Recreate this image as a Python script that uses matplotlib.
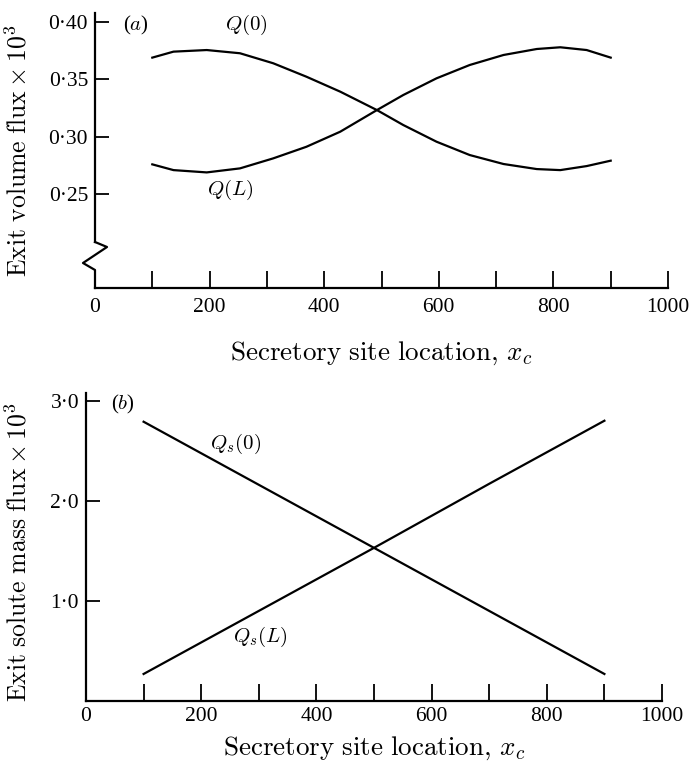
import numpy as np
from matplotlib import pyplot as plt

plt.rcParams['font.family'] = ['Liberation Serif', 'DejaVu Serif']
plt.rcParams['mathtext.fontset'] = 'cm'

# (a) exit volume flux x 10^3 against secretory site location
xc0 = [100, 137, 195, 253, 311, 369, 428, 492, 538, 596, 654, 713, 771, 812, 858, 900]
Q0 = [0.3690, 0.3742, 0.3756, 0.3728, 0.3641, 0.3524, 0.3394, 0.3234, 0.3104,
      0.2959, 0.2843, 0.2765, 0.2721, 0.2712, 0.2747, 0.2794]
xcL = [100, 137, 195, 253, 311, 369, 428, 492, 538, 596, 654, 713, 771, 812, 858, 900]
QL = [0.2762, 0.2712, 0.2692, 0.2727, 0.2814, 0.2915, 0.3046, 0.3234, 0.3365,
      0.3510, 0.3626, 0.3713, 0.3765, 0.3780, 0.3756, 0.3690]

# (b) exit solute mass flux x 10^3
xs = [100, 300, 500, 700, 900]
Qs0 = [2.79, 2.16, 1.53, 0.90, 0.27]
QsL = [0.27, 0.90, 1.53, 2.17, 2.80]

xticks = [0, 200, 400, 600, 800, 1000]
xticklabels = ['0', '200', '400', '600', '800', '1000']
yticks_a = [0.25, 0.30, 0.35, 0.40]
yticklabels_a = ['0·25', '0·30', '0·35', '0·40']
yticks_b = [1.0, 2.0, 3.0]
yticklabels_b = ['1·0', '2·0', '3·0']

fs = 15.5    # tick labels
fa = 15      # curve annotations
fx = 19.5    # x label
fy = 18.5    # y label
lw = 1.6

xlab = r'$\mathrm{Secretory\ site\ location,}\,x_c$'

fig = plt.figure(figsize=(6.93, 7.62), dpi=100)

ax1 = fig.add_axes([95/693, 1-288/762, 573/693, 275/762])
ax1.plot(xc0, Q0, color='black', lw=lw)
ax1.plot(xcL, QL, color='black', lw=lw)
ax1.set_xlim(0, 1000)
ax1.set_ylim(0.1687, 0.4078)
ax1.set_xticks(xticks)
ax1.set_xticklabels(xticklabels, fontsize=fs)
ax1.set_xticks(np.arange(100, 1000, 200), minor=True)
ax1.set_yticks(yticks_a)
ax1.set_yticklabels(yticklabels_a, fontsize=fs)
ax1.spines['top'].set_visible(False)
ax1.spines['right'].set_visible(False)
ax1.spines['left'].set_visible(False)
# broken y axis drawn by hand
bx = [0, 12/573, -12/573, 0, 0]
by = [1-(242-13)/275, 1-(247-13)/275, 1-(263-13)/275, 1-(270-13)/275, 0]
ax1.plot([0, 0], [1, by[0]], transform=ax1.transAxes, color='black', lw=lw, clip_on=False)
ax1.plot(bx, by, transform=ax1.transAxes, color='black', lw=lw, clip_on=False)
ax1.text(72, 0.397, '($a$)', fontsize=fa, ha='center', va='center')
ax1.text(265, 0.397, '$Q(0)$', fontsize=fa, ha='center', va='center')
ax1.text(236, 0.254, '$Q(L)$', fontsize=fa, ha='center', va='center')
ax1.set_xlabel(xlab, fontsize=fx)
ax1.xaxis.set_label_coords(0.499, -0.236)
ax1.set_ylabel(r'$\mathrm{Exit\ volume\ flux}\times10^3$', fontsize=fy)
ax1.yaxis.set_label_coords(-0.134, 0.5)
ax1.tick_params(axis='x', which='both', pad=7)

ax2 = fig.add_axes([86/693, 1-701/762, 576/693, 308/762])
ax2.plot(xs, Qs0, color='black', lw=lw)
ax2.plot(xs, QsL, color='black', lw=lw)
ax2.set_xlim(0, 1000)
ax2.set_ylim(0, 3.077)
ax2.set_xticks(xticks)
ax2.set_xticklabels(xticklabels, fontsize=fs)
ax2.set_xticks(np.arange(100, 1000, 200), minor=True)
ax2.set_yticks(yticks_b)
ax2.set_yticklabels(yticklabels_b, fontsize=fs)
ax2.spines['top'].set_visible(False)
ax2.spines['right'].set_visible(False)
ax2.text(64, 2.96, '($b$)', fontsize=fa, ha='center', va='center')
ax2.text(259, 2.57, '$Q_s(0)$', fontsize=fa, ha='center', va='center')
ax2.text(302, 0.64, '$Q_s(L)$', fontsize=fa, ha='center', va='center')
ax2.set_xlabel(xlab, fontsize=fx)
ax2.xaxis.set_label_coords(0.5, -0.153)
ax2.set_ylabel(r'$\mathrm{Exit\ solute\ mass\ flux}\times10^3$', fontsize=fy)
ax2.yaxis.set_label_coords(-0.118, 0.484)
ax2.tick_params(axis='x', which='both', pad=4)

for ax in (ax1, ax2):
    ax.spines['left'].set_linewidth(lw)
    ax.spines['bottom'].set_linewidth(lw)
    ax.xaxis.label.set_va('center')
    ax.yaxis.label.set_va('center')
    ax.tick_params(axis='x', which='both', direction='in', length=12, width=1.3)
    ax.tick_params(axis='y', which='both', direction='in', length=10, width=1.3, pad=5)

fig.savefig('out.png', dpi=100)
